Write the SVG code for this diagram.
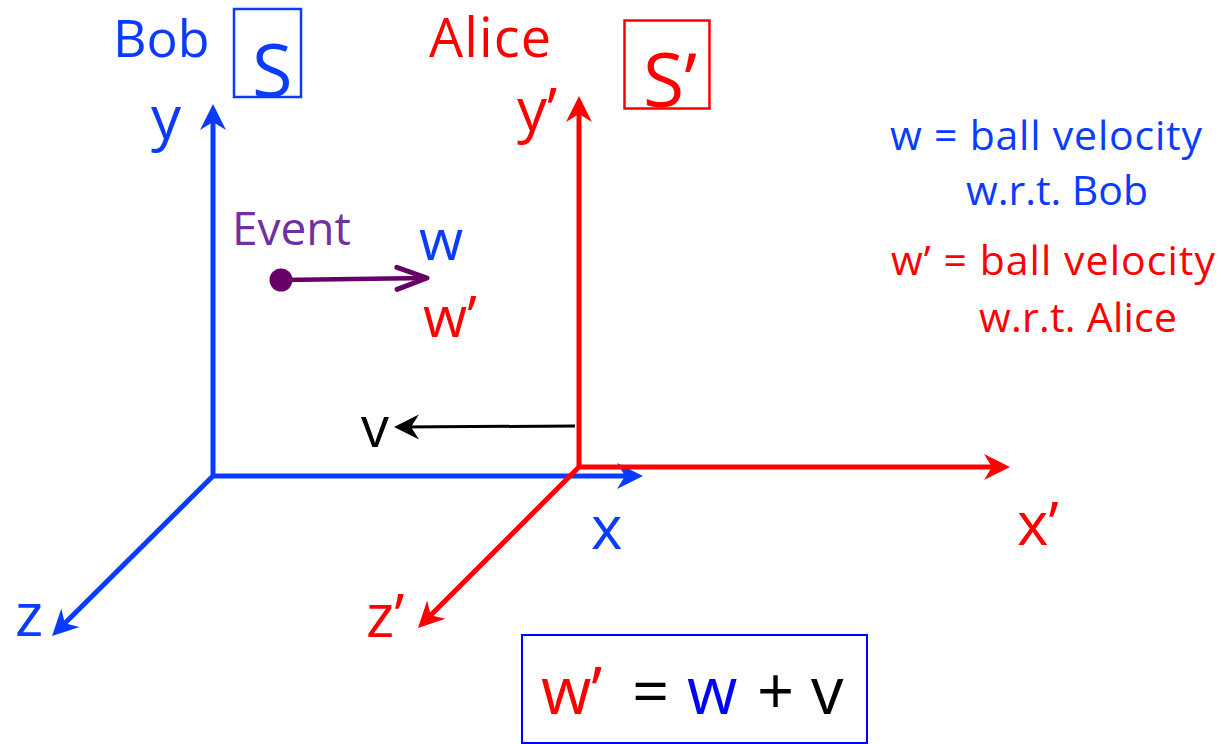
<svg xmlns="http://www.w3.org/2000/svg" width="1221" height="744" viewBox="0 0 1221 744">
<style>
text{font-family:"Open Sans","Noto Sans","Liberation Sans",sans-serif;}
.blue{fill:#0A3CFF;}
.red{fill:#FF0000;}
.black{fill:#000000;}
.purple{fill:#7030A0;}
.ax{fill:none;stroke-width:5;}
.bax{stroke:#0A3CFF;}
.rax{stroke:#FF0000;}
.box{fill:none;}
</style>
<defs>
<marker id="hb" markerUnits="userSpaceOnUse" orient="auto" overflow="visible" refX="0" refY="0" markerWidth="1" markerHeight="1">
<path d="M6,0 L-20,-13 L-12,0 L-20,13 Z" fill="#0A3CFF"/>
</marker>
<marker id="hr" markerUnits="userSpaceOnUse" orient="auto" overflow="visible" refX="0" refY="0" markerWidth="1" markerHeight="1">
<path d="M6,0 L-20,-13 L-12,0 L-20,13 Z" fill="#FF0000"/>
</marker>
<marker id="hk" markerUnits="userSpaceOnUse" orient="auto" overflow="visible" refX="0" refY="0" markerWidth="1" markerHeight="1">
<path d="M6,0 L-19,-12.5 L-11,0 L-19,12.5 Z" fill="#000000"/>
</marker>
<marker id="hp" markerUnits="userSpaceOnUse" orient="auto" overflow="visible" refX="0" refY="0" markerWidth="1" markerHeight="1">
<path d="M-30,-11 L0,0 L-30,11" fill="none" stroke="#660066" stroke-width="5" stroke-linecap="round" stroke-linejoin="round"/>
</marker>
</defs>
<rect width="1221" height="744" fill="#FFFFFF"/>

<g id="connectors">
<line id="axis-y" class="ax bax" x1="213" y1="476" x2="213" y2="110" marker-end="url(#hb)"/>
<line id="axis-x" class="ax bax" x1="213" y1="476" x2="637" y2="476" marker-end="url(#hb)"/>
<line id="axis-z" class="ax bax" x1="213" y1="476" x2="56.3" y2="631.8" marker-end="url(#hb)"/>
<line id="axis-y-prime" class="ax rax" x1="579" y1="467" x2="579" y2="102" marker-end="url(#hr)"/>
<line id="axis-x-prime" class="ax rax" x1="579" y1="467" x2="1004" y2="467" marker-end="url(#hr)"/>
<line id="axis-z-prime" class="ax rax" x1="579" y1="467" x2="422.2" y2="623.8" marker-end="url(#hr)"/>
<line id="velocity-v" x1="575" y1="426" x2="400" y2="427" stroke="#000000" stroke-width="3" marker-end="url(#hk)"/>
<line id="velocity-w" x1="281" y1="280" x2="427" y2="278" stroke="#660066" stroke-width="4.5" marker-end="url(#hp)"/>
</g>

<g id="bob">
<text class="blue" x="113" y="57" font-size="52">Bob</text>
</g>
<g id="frame-S">
<rect class="box" x="234" y="9" width="67" height="88" stroke="#0A3CFF" stroke-width="2.5"/>
<text class="blue" x="252" y="97" font-size="74">S</text>
</g>
<g id="alice">
<text class="red" x="429" y="57" font-size="54" textLength="122">Alice</text>
</g>
<g id="frame-S-prime">
<rect class="box" x="624.5" y="20.5" width="85" height="88" stroke="#FF0000" stroke-width="2.5"/>
<text class="red" x="643" y="107" font-size="75">S’</text>
</g>

<g id="label-y"><text class="blue" x="151" y="139" font-size="60">y</text></g>
<g id="label-x"><text class="blue" x="591" y="549" font-size="60">x</text></g>
<g id="label-z"><text class="blue" x="15" y="636" font-size="60">z</text></g>
<g id="label-y-prime"><text class="red" x="517" y="131" font-size="60">y’</text></g>
<g id="label-x-prime"><text class="red" x="1017" y="545" font-size="60">x’</text></g>
<g id="label-z-prime"><text class="red" x="366" y="637" font-size="60">z’</text></g>
<g id="label-v"><text class="black" x="361" y="447" font-size="56">v</text></g>

<g id="event">
<text class="purple" x="232" y="245" font-size="46">Event</text>
<circle cx="281" cy="280" r="11.5" fill="#660066"/>
</g>
<g id="label-w"><text class="blue" x="419" y="260" font-size="57">w</text></g>
<g id="label-w-prime"><text class="red" x="423" y="337" font-size="57">w’</text></g>

<g id="legend">
<text class="blue" x="890" y="150" font-size="41" textLength="312">w = ball velocity</text>
<text class="blue" x="966" y="205" font-size="41" textLength="182">w.r.t. Bob</text>
<text class="red" x="891" y="275" font-size="41" textLength="324">w’ = ball velocity</text>
<text class="red" x="979" y="332" font-size="41" textLength="198">w.r.t. Alice</text>
</g>

<g id="equation">
<rect class="box" x="522" y="635" width="345" height="108" stroke="#0000FF" stroke-width="2"/>
<text font-size="65" y="714"><tspan class="red" x="541">w’</tspan><tspan class="black" x="632">=</tspan><tspan fill="#0000FF" x="687">w</tspan><tspan class="black" x="757">+</tspan><tspan class="black" x="811">v</tspan></text>
</g>
</svg>
